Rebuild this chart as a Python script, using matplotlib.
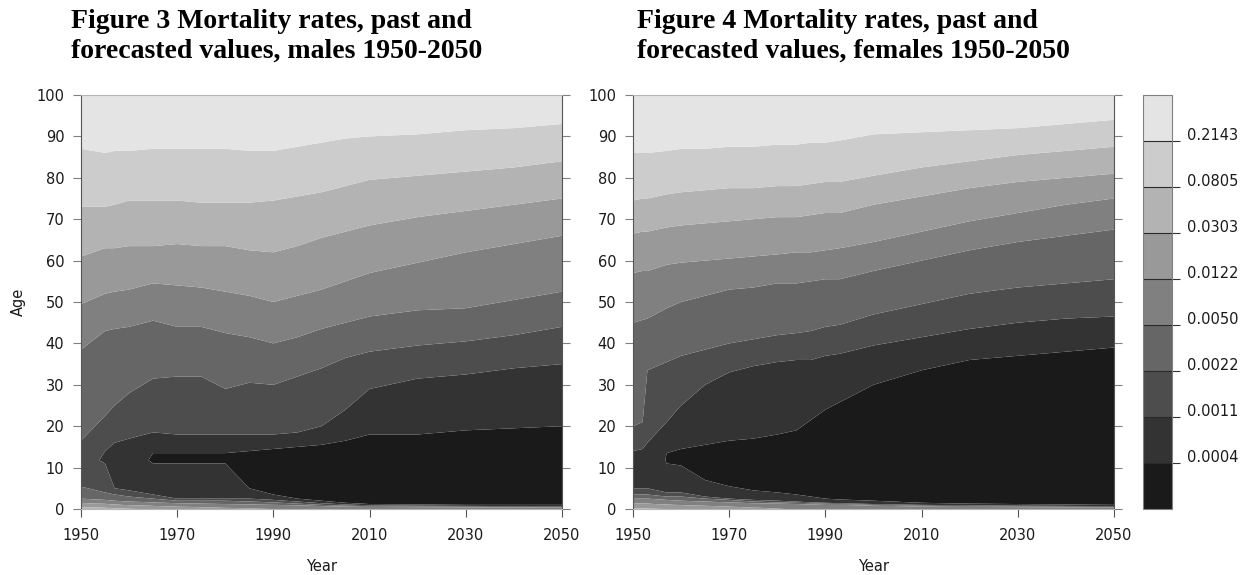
import numpy as np
import matplotlib
matplotlib.use("Agg")
import matplotlib.pyplot as plt
from matplotlib.transforms import offset_copy

nan = np.nan

# colour breaks of the mortality surface (rates)
rate_breaks = [0.0004, 0.0011, 0.0022, 0.0050, 0.0122, 0.0303, 0.0805, 0.2143]
break_labels = ['0.0004', '0.0011', '0.0022', '0.0050', '0.0122', '0.0303', '0.0805', '0.2143']
band_colors = ['#1a1a1a', '#333333', '#4d4d4d', '#666666', '#808080',
               '#999999', '#b3b3b3', '#cccccc', '#e4e4e4']
rate_floor, rate_ceiling = 1e-5, 1.0
rate_age100 = 0.5

year_ticks = [1950, 1970, 1990, 2010, 2030, 2050]
age_ticks = list(range(0, 101, 10))

# ---- males: age at which the rate crosses each break ----
m_years = [1950, 1955, 1957, 1960, 1965, 1970, 1975, 1980, 1985, 1990, 1995,
           2000, 2005, 2010, 2020, 2030, 2040, 2050]
m_age0 = [0.045, 0.040, 0.036, 0.032, 0.027, 0.022, 0.019, 0.016, 0.014, 0.012,
          0.011, 0.010, 0.009, 0.0088, 0.0085, 0.0082, 0.008, 0.008]
m_low3 = [2.5, 2.2, 2.0, 1.8, 1.6, 1.4, 1.3, 1.2, 1.1, 1.0, 0.9, 0.7, 0.6, 0.5, 0.45, 0.4, 0.4, 0.35]
m_low2 = [5.4, 4.0, 3.5, 3.0, 2.5, 2.0, 2.0, 2.0, 1.8, 1.6, 1.3, 1.0, 0.8, 0.7, 0.6, 0.55, 0.5, 0.5]
m_low1 = [nan, 11.0, 5.0, 4.5, 3.5, 2.5, 2.5, 2.5, 2.5, 2.2, 1.8, 1.4, 1.1, 0.9, 0.8, 0.75, 0.7, 0.7]
m_low0 = [nan, nan, nan, nan, 11.0, 11.0, 11.0, 11.0, 5.0, 3.5, 2.5, 2.0, 1.5, 1.2, 1.1, 1.0, 1.0, 1.0]
m_trough_age = [11, 12, 11, 11, 12, 12, 12, 12, 9, 8, 8, 8, 8, 8, 8, 8, 8, 8]
m_trough_rate = [0.0015, 0.0010, 0.0008, 0.0007, 0.00035, 0.00035, 0.00035, 0.00035, 0.0003,
                 0.00025, 0.00022, 0.0002, 0.00018, 0.00016, 0.00014, 0.00012, 0.00011, 0.0001]
m_up0 = [nan, nan, nan, nan, 13.5, 13.5, 13.5, 13.5, 14.0, 14.5, 15.0, 15.5, 16.5, 18.0, 18.0, 19.0, 19.5, 20.0]
m_up1 = [nan, 14.0, 16.0, 17.0, 18.5, 18.0, 18.0, 18.0, 18.0, 18.0, 18.5, 20.0, 24.0, 29.0, 31.5, 32.5, 34.0, 35.0]
m_up2 = [16.5, 22.5, 25.0, 28.0, 31.5, 32.0, 32.0, 29.0, 30.5, 30.0, 32.0, 34.0, 36.5, 38.0, 39.5, 40.5, 42.0, 44.0]
m_up3 = [38.5, 43.0, 43.5, 44.0, 45.5, 44.0, 44.0, 42.5, 41.5, 40.0, 41.5, 43.5, 45.0, 46.5, 48.0, 48.5, 50.5, 52.5]
m_up4 = [49.5, 52.0, 52.5, 53.0, 54.5, 54.0, 53.5, 52.5, 51.5, 50.0, 51.5, 53.0, 55.0, 57.0, 59.5, 62.0, 64.0, 66.0]
m_up5 = [61.0, 63.0, 63.0, 63.5, 63.5, 64.0, 63.5, 63.5, 62.5, 62.0, 63.5, 65.5, 67.0, 68.5, 70.5, 72.0, 73.5, 75.0]
m_up6 = [73.0, 73.0, 73.5, 74.5, 74.5, 74.5, 74.0, 74.0, 74.0, 74.5, 75.5, 76.5, 78.0, 79.5, 80.5, 81.5, 82.5, 84.0]
m_up7 = [87.0, 86.0, 86.5, 86.5, 87.0, 87.0, 87.0, 87.0, 86.5, 86.5, 87.5, 88.5, 89.5, 90.0, 90.5, 91.5, 92.0, 93.0]

# ---- females, Figure 4 ----
f_years = [1950, 1952, 1953, 1957, 1960, 1965, 1970, 1975, 1980, 1984, 1987, 1990,
           1993, 2000, 2010, 2020, 2030, 2040, 2050]
f_age0 = [0.035, 0.034, 0.033, 0.030, 0.028, 0.024, 0.020, 0.016, 0.013, 0.011,
          0.010, 0.009, 0.009, 0.008, 0.0075, 0.007, 0.007, 0.0068, 0.0065]
f_low3 = [2.5, 2.5, 2.5, 2.2, 2.0, 1.8, 1.6, 1.4, 1.3, 1.2, 1.1, 1.0, 1.0, 0.8, 0.6, 0.5, 0.45, 0.4, 0.4]
f_low2 = [3.5, 3.5, 3.5, 3.0, 3.0, 2.5, 2.2, 1.8, 1.6, 1.5, 1.4, 1.3, 1.2, 1.0, 0.8, 0.7, 0.6, 0.55, 0.5]
f_low1 = [5.0, 5.0, 5.0, 4.0, 4.0, 3.0, 2.5, 2.2, 2.0, 1.8, 1.6, 1.5, 1.4, 1.2, 1.0, 0.9, 0.8, 0.75, 0.7]
f_low0 = [nan, nan, nan, 11.0, 10.5, 7.0, 5.5, 4.5, 4.0, 3.5, 3.0, 2.5, 2.3, 2.0, 1.5, 1.3, 1.2, 1.1, 1.0]
f_trough_age = [10, 10, 10, 12, 11, 10, 9, 9, 9, 9, 9, 9, 9, 9, 9, 9, 9, 9, 9]
f_trough_rate = [0.0009, 0.0009, 0.0008, 0.00038, 0.00035, 0.0003, 0.00028, 0.00025, 0.00023, 0.0002,
                 0.0002, 0.00018, 0.00017, 0.00015, 0.00012, 0.0001, 0.00009, 0.00008, 0.00008]
f_up0 = [nan, nan, nan, 13.5, 14.5, 15.5, 16.5, 17.0, 18.0, 19.0, 23.0, 24.0, 28.5, 30.0, 33.5, 36.0, 37.0, 38.0, 39.0]
f_up1 = [14.0, 14.5, 16.0, 21.0, 25.0, 30.0, 33.0, 34.5, 35.5, 36.0, 36.0, 37.0, 37.5, 39.5, 41.5, 43.5, 45.0, 46.0, 46.5]
f_up2 = [20.0, 21.0, 33.5, 35.5, 37.0, 38.5, 40.0, 41.0, 42.0, 42.5, 43.0, 44.0, 44.5, 47.0, 49.5, 52.0, 53.5, 54.5, 55.5]
f_up3 = [45.0, 46.0, 46.0, 48.5, 50.0, 51.5, 53.0, 53.5, 54.5, 54.5, 55.0, 55.5, 55.5, 57.5, 60.0, 62.5, 64.5, 66.0, 67.5]
f_up4 = [57.0, 57.5, 57.5, 59.0, 59.5, 60.0, 60.5, 61.0, 61.5, 62.0, 62.0, 62.5, 63.0, 64.5, 67.0, 69.5, 71.5, 73.5, 75.0]
f_up5 = [66.5, 67.0, 67.0, 68.0, 68.5, 69.0, 69.5, 70.0, 70.5, 70.5, 71.0, 71.5, 71.5, 73.5, 75.5, 77.5, 79.0, 80.0, 81.0]
f_up6 = [74.5, 75.0, 75.0, 76.0, 76.5, 77.0, 77.5, 77.5, 78.0, 78.0, 78.5, 79.0, 79.0, 80.5, 82.5, 84.0, 85.5, 86.5, 87.5]
f_up7 = [86.0, 86.0, 86.0, 86.5, 87.0, 87.0, 87.5, 87.5, 88.0, 88.0, 88.5, 88.5, 89.0, 90.5, 91.0, 91.5, 92.0, 93.0, 94.0]


def surface(years, age0, lows, trough_age, trough_rate, ups):
    # scattered (year, age, log rate) points; tricontourf does the filling
    xs, ys, zs = [], [], []
    for j, yr in enumerate(years):
        xs += [yr, yr, yr]
        ys += [0.0, 100.0, trough_age[j]]
        zs += [age0[j], rate_age100, trough_rate[j]]
        for k, arr in list(lows.items()) + list(ups.items()):
            if not np.isnan(arr[j]):
                xs.append(yr)
                ys.append(arr[j])
                zs.append(rate_breaks[k])
    return np.array(xs, float), np.array(ys, float), np.log10(zs)


edges = np.log10([rate_floor] + rate_breaks + [rate_ceiling])

fig = plt.figure(figsize=(12.5, 5.75), dpi=100)
W, H = 1250.0, 575.0
ax_m = fig.add_axes([81 / W, 1 - 509 / H, 481 / W, 414 / H])
ax_f = fig.add_axes([633 / W, 1 - 509 / H, 481 / W, 414 / H])
cax = fig.add_axes([1143 / W, 1 - 509 / H, 29 / W, 414 / H])

male = surface(m_years, m_age0, {3: m_low3, 2: m_low2, 1: m_low1, 0: m_low0},
               m_trough_age, m_trough_rate,
               {0: m_up0, 1: m_up1, 2: m_up2, 3: m_up3, 4: m_up4, 5: m_up5, 6: m_up6, 7: m_up7})
female = surface(f_years, f_age0, {3: f_low3, 2: f_low2, 1: f_low1, 0: f_low0},
                 f_trough_age, f_trough_rate,
                 {0: f_up0, 1: f_up1, 2: f_up2, 3: f_up3, 4: f_up4, 5: f_up5, 6: f_up6, 7: f_up7})

tick_font = dict(family='DejaVu Sans', size=10.5, color='#1a1a1a')

for ax, (x, y, z) in [(ax_m, male), (ax_f, female)]:
    cs = ax.tricontourf(x, y, z, levels=edges, colors=band_colors, antialiased=True)
    ax.set_xlim(1950, 2050)
    ax.set_ylim(0, 100)
    ax.set_xticks(year_ticks)
    ax.set_yticks(age_ticks)
    ax.tick_params(axis='y', left=True, right=True, labelright=False,
                   length=5.5, width=0.8, color='#808080', pad=6.5)
    ax.tick_params(axis='x', length=5.5, width=0.8, color='#555555', pad=8)
    for lab in ax.get_xticklabels() + ax.get_yticklabels():
        lab.set(**tick_font)
    for side in ['left', 'right']:
        ax.spines[side].set_color('#555555')
        ax.spines[side].set_linewidth(0.8)
    for side in ['top', 'bottom']:
        ax.spines[side].set_color('#b5b5b5')
        ax.spines[side].set_linewidth(0.8)
    pos = ax.get_position()
    fig.text(pos.x0 + pos.width / 2, 4 / H, 'Year', ha='center', va='baseline',
             family='DejaVu Sans', size=10.5, color='#1a1a1a')

fig.text(18 / W, 1 - 302 / H, 'Age', rotation=90, ha='center', va='center',
         family='DejaVu Sans', size=10.5, color='#1a1a1a')

title_font = dict(family='Liberation Serif', weight='bold', size=20, color='black')
fig.text(71 / W, 1 - 28 / H, 'Figure 3 Mortality rates, past and', va='baseline', **title_font)
fig.text(71 / W, 1 - 58 / H, 'forecasted values, males 1950-2050', va='baseline', **title_font)
fig.text(637 / W, 1 - 28 / H, 'Figure 4 Mortality rates, past and', va='baseline', **title_font)
fig.text(637 / W, 1 - 58 / H, 'forecasted values, females 1950-2050', va='baseline', **title_font)

cbar = fig.colorbar(cs, cax=cax, spacing='uniform', drawedges=True)
cbar.set_ticks(np.log10(rate_breaks))
cbar.ax.set_yticklabels([])
cbar.ax.tick_params(length=6, width=0.8, color='#333333', direction='out')
cbar.outline.set_edgecolor('#808080')
cbar.outline.set_linewidth(0.8)
cbar.dividers.set_color('#2a2a2a')
cbar.dividers.set_linewidth(0.8)
label_tr = offset_copy(cax.get_yaxis_transform(), fig=fig, x=15, y=6, units='dots')
for val, lab in zip(np.log10(rate_breaks), break_labels):
    cax.text(1.0, val, lab, transform=label_tr, ha='left', va='center', **tick_font)

fig.savefig('out.png', dpi=100)
